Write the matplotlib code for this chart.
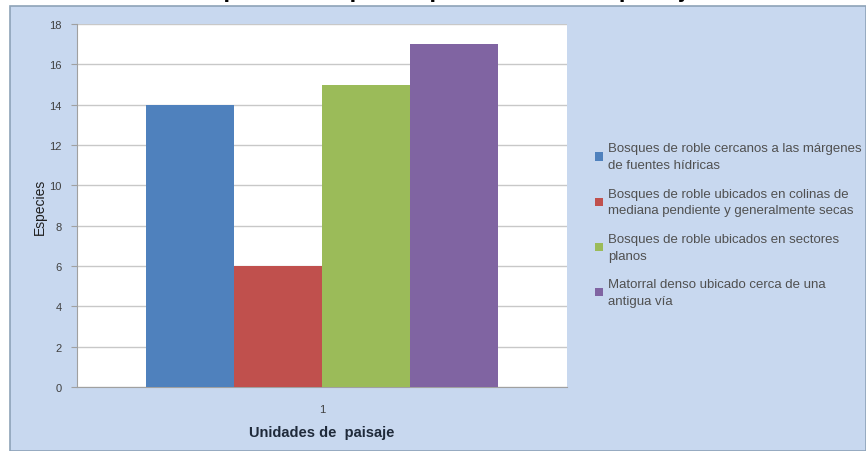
import matplotlib
matplotlib.use("Agg")
import matplotlib.pyplot as plt
from matplotlib.patches import Rectangle

categories = ["1"]
series_names = [
    "Bosques de roble cercanos a las márgenes\nde fuentes hídricas",
    "Bosques de roble ubicados en colinas de\nmediana pendiente y generalmente secas",
    "Bosques de roble ubicados en sectores\nplanos",
    "Matorral denso ubicado cerca de una\nantigua vía",
]
values = [14, 6, 15, 17]
colors = ["#4f81bd", "#c0504d", "#9bbb59", "#8064a2"]
y_ticks = [0, 2, 4, 6, 8, 10, 12, 14, 16, 18]
title = "Riqueza de especies por unidades de paisaje"

W, H = 866, 452
fig = plt.figure(figsize=(W / 100, H / 100), dpi=100)
fig.patch.set_facecolor("white")

narrow = ["Liberation Sans Narrow", "Liberation Sans", "DejaVu Sans"]

# chart area background
bg = Rectangle((10 / W, 0), (W - 10) / W, (H - 7) / H, transform=fig.transFigure,
               facecolor="#c8d8ef", edgecolor="#8ea3b8", linewidth=1.2, zorder=-10)
fig.patches.append(bg)

# clipped title (only descenders visible at top, as in the reference)
fig.text(0.515, 1 + 3 / H, title, ha="center", va="baseline", fontsize=17,
         fontweight="bold", family=["Liberation Sans", "DejaVu Sans"], color="black")

ax = fig.add_axes([77 / W, 1 - 388 / H, (567 - 77) / W, (388 - 25) / H])
ax.set_facecolor("white")
ax.set_zorder(1)

bw = 0.18
for i, (name, v, c) in enumerate(zip(series_names, values, colors)):
    ax.bar([(i - 1.5) * bw], [v], width=bw, color=c, label=name, zorder=3)

ax.set_xlim(-0.5, 0.5)
ax.set_ylim(0, 18)
ax.set_yticks(y_ticks)
ax.set_yticklabels([str(t) for t in y_ticks], fontsize=8, color="#404040",
                   family=narrow)
ax.set_xticks([0])
ax.set_xticklabels(categories, fontsize=8, color="#404040", family=narrow)
ax.tick_params(axis="y", length=4, color="#a0a0a0", pad=7)
ax.tick_params(axis="x", length=0, pad=12)
ax.grid(axis="y", color="#c8c8c8", linewidth=1, zorder=0)
for s in ["top", "right"]:
    ax.spines[s].set_visible(False)
ax.spines["left"].set_color("#a0a0a0")
ax.spines["bottom"].set_color("#a0a0a0")

ax.set_ylabel("Especies", fontsize=10, color="#1f1f1f", family=narrow, labelpad=2)
ax.set_xlabel("Unidades de  paisaje", fontsize=10.5, fontweight="bold",
              color="#1f2a3a", family=["Liberation Sans", "DejaVu Sans"], labelpad=8)

leg = fig.legend(loc="upper left", bbox_to_anchor=(590 / W, 1 - 138 / H),
                 frameon=False, prop={"family": narrow, "size": 9.5},
                 handlelength=0.6, handleheight=0.6, handletextpad=0.4,
                 labelspacing=1.25, borderaxespad=0)
for t in leg.get_texts():
    t.set_color("#505050")
    t.set_linespacing(1.53)

fig.savefig("out.png", dpi=100, facecolor=fig.get_facecolor())
